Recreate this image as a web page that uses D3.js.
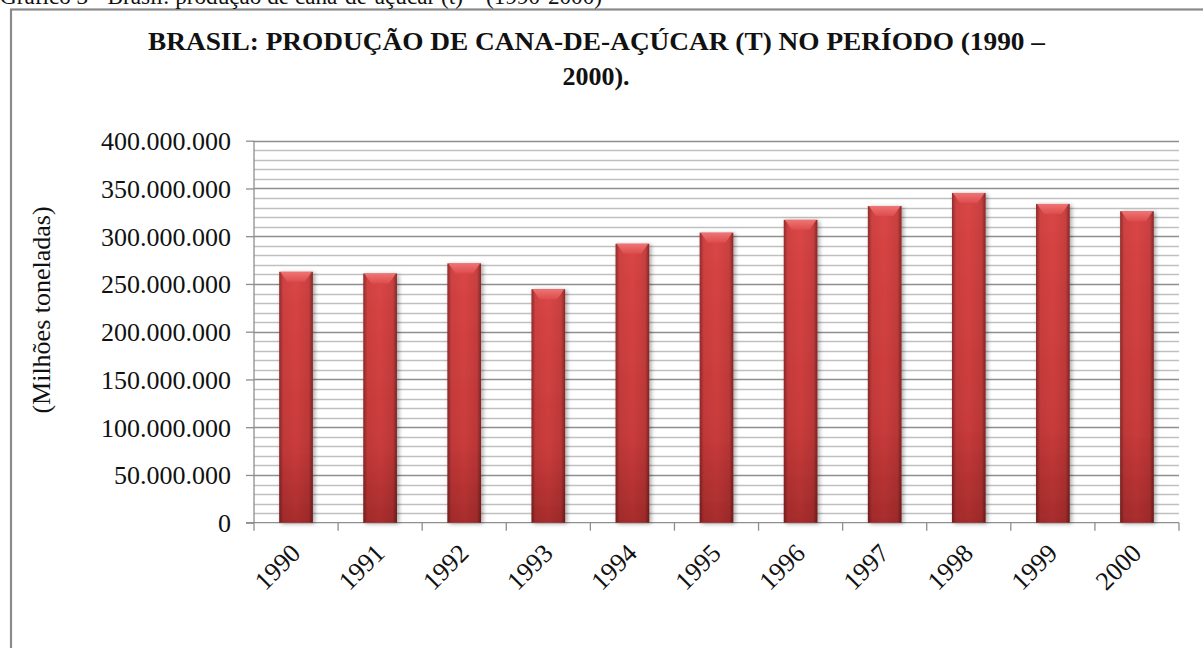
<!DOCTYPE html>
<html>
<head>
<meta charset="utf-8">
<script src="https://cdn.jsdelivr.net/npm/d3@7/dist/d3.min.js"></script>
<style>
html,body{margin:0;padding:0;background:#fff;overflow:hidden;}
svg{display:block;}
text{font-family:"Liberation Serif","Times New Roman",serif;fill:#111;}
</style>
</head>
<body>
<svg id="chart" width="1203" height="648"></svg>
<script>
// ---- data ----
const years = ["1990","1991","1992","1993","1994","1995","1996","1997","1998","1999","2000"];
const production = [262700000, 260900000, 271500000, 244500000, 292100000, 303700000, 317100000, 331600000, 345300000, 333800000, 326100000];
const yTickValues = [0, 50000000, 100000000, 150000000, 200000000, 250000000, 300000000, 350000000, 400000000];
const titleLines = ["BRASIL: PRODUÇÃO DE CANA-DE-AÇÚCAR (T) NO PERÍODO (1990 –", "2000)."];
const yAxisTitle = "(Milhões toneladas)";
const caption = "Gráfico 3 - Brasil: produção de cana-de-açúcar (t) – (1990-2000)";

(function () {
const svg = d3.select("#chart");
const defs = svg.append("defs");

// frame
svg.append("rect").attr("x", 11).attr("y", 9.5).attr("width", 1300).attr("height", 800)
  .attr("fill", "none").attr("stroke", "#8a8a8a").attr("stroke-width", 2.2);

// caption (cut off at the top, as in the source)
svg.append("text").attr("x", 0).attr("y", 4).attr("font-size", 23).attr("textLength", 602)
  .attr("lengthAdjust", "spacingAndGlyphs").text(caption);

// title
svg.append("text").attr("x", 596.5).attr("y", 50).attr("text-anchor", "middle")
  .attr("font-size", 26).attr("font-weight", "bold")
  .attr("textLength", 897).attr("lengthAdjust", "spacingAndGlyphs").text(titleLines[0]);
svg.append("text").attr("x", 596).attr("y", 85).attr("text-anchor", "middle")
  .attr("font-size", 26).attr("font-weight", "bold").text(titleLines[1]);

const pLeft = 254, pRight = 1179, pTop = 140.7, pBottom = 522.7;

const x = d3.scaleBand().domain(years).range([pLeft, pRight]).paddingInner(0.6).paddingOuter(0.3);
const y = d3.scaleLinear().domain([0, 400000000]).range([pBottom, pTop]);

// minor gridlines
const minor = d3.range(10000000, 400000001, 10000000).filter(v => v % 50000000 !== 0);
svg.append("g").selectAll("line").data(minor).join("line")
  .attr("x1", pLeft).attr("x2", pRight)
  .attr("y1", d => Math.round(y(d)) + 0.5).attr("y2", d => Math.round(y(d)) + 0.5)
  .attr("stroke", "#c0c0c0").attr("stroke-width", 1.3);
// major gridlines
svg.append("g").selectAll("line").data(yTickValues.filter(v => v > 0)).join("line")
  .attr("x1", pLeft).attr("x2", pRight)
  .attr("y1", d => Math.round(y(d)) + 0.5).attr("y2", d => Math.round(y(d)) + 0.5)
  .attr("stroke", "#8e8e8e").attr("stroke-width", 1.3);

// y axis
const fmt = v => d3.format(",")(v).replace(/,/g, ".");
const yAxis = d3.axisLeft(y).tickValues(yTickValues).tickFormat(fmt).tickSize(8).tickPadding(15);
const gy = svg.append("g").attr("transform", `translate(${pLeft},0)`).call(yAxis);
gy.attr("font-family", null).attr("font-size", null);
gy.select(".domain").attr("stroke", "#8e8e8e").attr("stroke-width", 1.3).attr("d", `M0,${pTop}V${pBottom}`);
gy.selectAll(".tick line").attr("stroke", "#8e8e8e").attr("stroke-width", 1.3);
gy.selectAll(".tick text").attr("font-size", 26).attr("fill", "#111").attr("dy", "0.34em");

// x axis (boundary ticks)
const boundaryX = d3.range(years.length + 1).map(i => pLeft + i * x.step());
const gx = svg.append("g");
gx.append("line").attr("x1", pLeft - 8).attr("x2", pRight).attr("y1", pBottom).attr("y2", pBottom)
  .attr("stroke", "#8e8e8e").attr("stroke-width", 1.3);
gx.selectAll("line.tk").data(boundaryX).join("line").attr("class", "tk")
  .attr("x1", d => d).attr("x2", d => d).attr("y1", pBottom).attr("y2", pBottom + 8)
  .attr("stroke", "#8e8e8e").attr("stroke-width", 1.3);
gx.selectAll("text").data(years).join("text")
  .attr("transform", d => `translate(${x(d) + x.bandwidth() / 2 + 6},${pBottom + 32}) rotate(-45)`)
  .attr("text-anchor", "end").attr("font-size", 26).text(d => d);

// y axis title
svg.append("text").attr("transform", "translate(50,310) rotate(-90)")
  .attr("text-anchor", "middle").attr("font-size", 26).text(yAxisTitle);

// bar gradients
const vg = defs.append("linearGradient").attr("id", "vgrad").attr("x1", 0).attr("y1", 0).attr("x2", 0).attr("y2", 1);
vg.append("stop").attr("offset", "0%").attr("stop-color", "#da4545");
vg.append("stop").attr("offset", "70%").attr("stop-color", "#c93b3b");
vg.append("stop").attr("offset", "100%").attr("stop-color", "#a82c2c");
const hg = defs.append("linearGradient").attr("id", "hgrad").attr("x1", 0).attr("y1", 0).attr("x2", 1).attr("y2", 0);
hg.append("stop").attr("offset", "0%").attr("stop-color", "#000").attr("stop-opacity", 0.35);
hg.append("stop").attr("offset", "12%").attr("stop-color", "#000").attr("stop-opacity", 0.05);
hg.append("stop").attr("offset", "50%").attr("stop-color", "#000").attr("stop-opacity", 0);
hg.append("stop").attr("offset", "88%").attr("stop-color", "#000").attr("stop-opacity", 0.08);
hg.append("stop").attr("offset", "100%").attr("stop-color", "#000").attr("stop-opacity", 0.4);
const bg = defs.append("linearGradient").attr("id", "bgrad").attr("x1", 0).attr("y1", 0).attr("x2", 0).attr("y2", 1);
bg.append("stop").attr("offset", "0%").attr("stop-color", "#f07474");
bg.append("stop").attr("offset", "100%").attr("stop-color", "#dc4c4c");
const sh = defs.append("filter").attr("id", "shadow").attr("x", "-30%").attr("y", "-10%").attr("width", "160%").attr("height", "120%");
sh.append("feDropShadow").attr("dx", 2).attr("dy", 1).attr("stdDeviation", 2.2).attr("flood-color", "#000").attr("flood-opacity", 0.35);

const bars = svg.append("g").selectAll("g").data(years.map((d, i) => ({year: d, value: production[i]}))).join("g");
bars.append("rect")
  .attr("x", d => x(d.year)).attr("y", d => y(d.value))
  .attr("width", x.bandwidth()).attr("height", d => pBottom - y(d.value))
  .attr("fill", "url(#vgrad)").attr("filter", "url(#shadow)");
bars.append("rect")
  .attr("x", d => x(d.year)).attr("y", d => y(d.value))
  .attr("width", x.bandwidth()).attr("height", d => pBottom - y(d.value))
  .attr("fill", "url(#hgrad)");
bars.append("path")
  .attr("d", d => {
    const x0 = x(d.year), x1 = x0 + x.bandwidth(), t = y(d.value);
    return `M${x0 + 1},${t}L${x1 - 1},${t}L${x1 - 8},${t + 10}L${x0 + 8},${t + 10}Z`;
  })
  .attr("fill", "url(#bgrad)");
})();
</script>
</body>
</html>
